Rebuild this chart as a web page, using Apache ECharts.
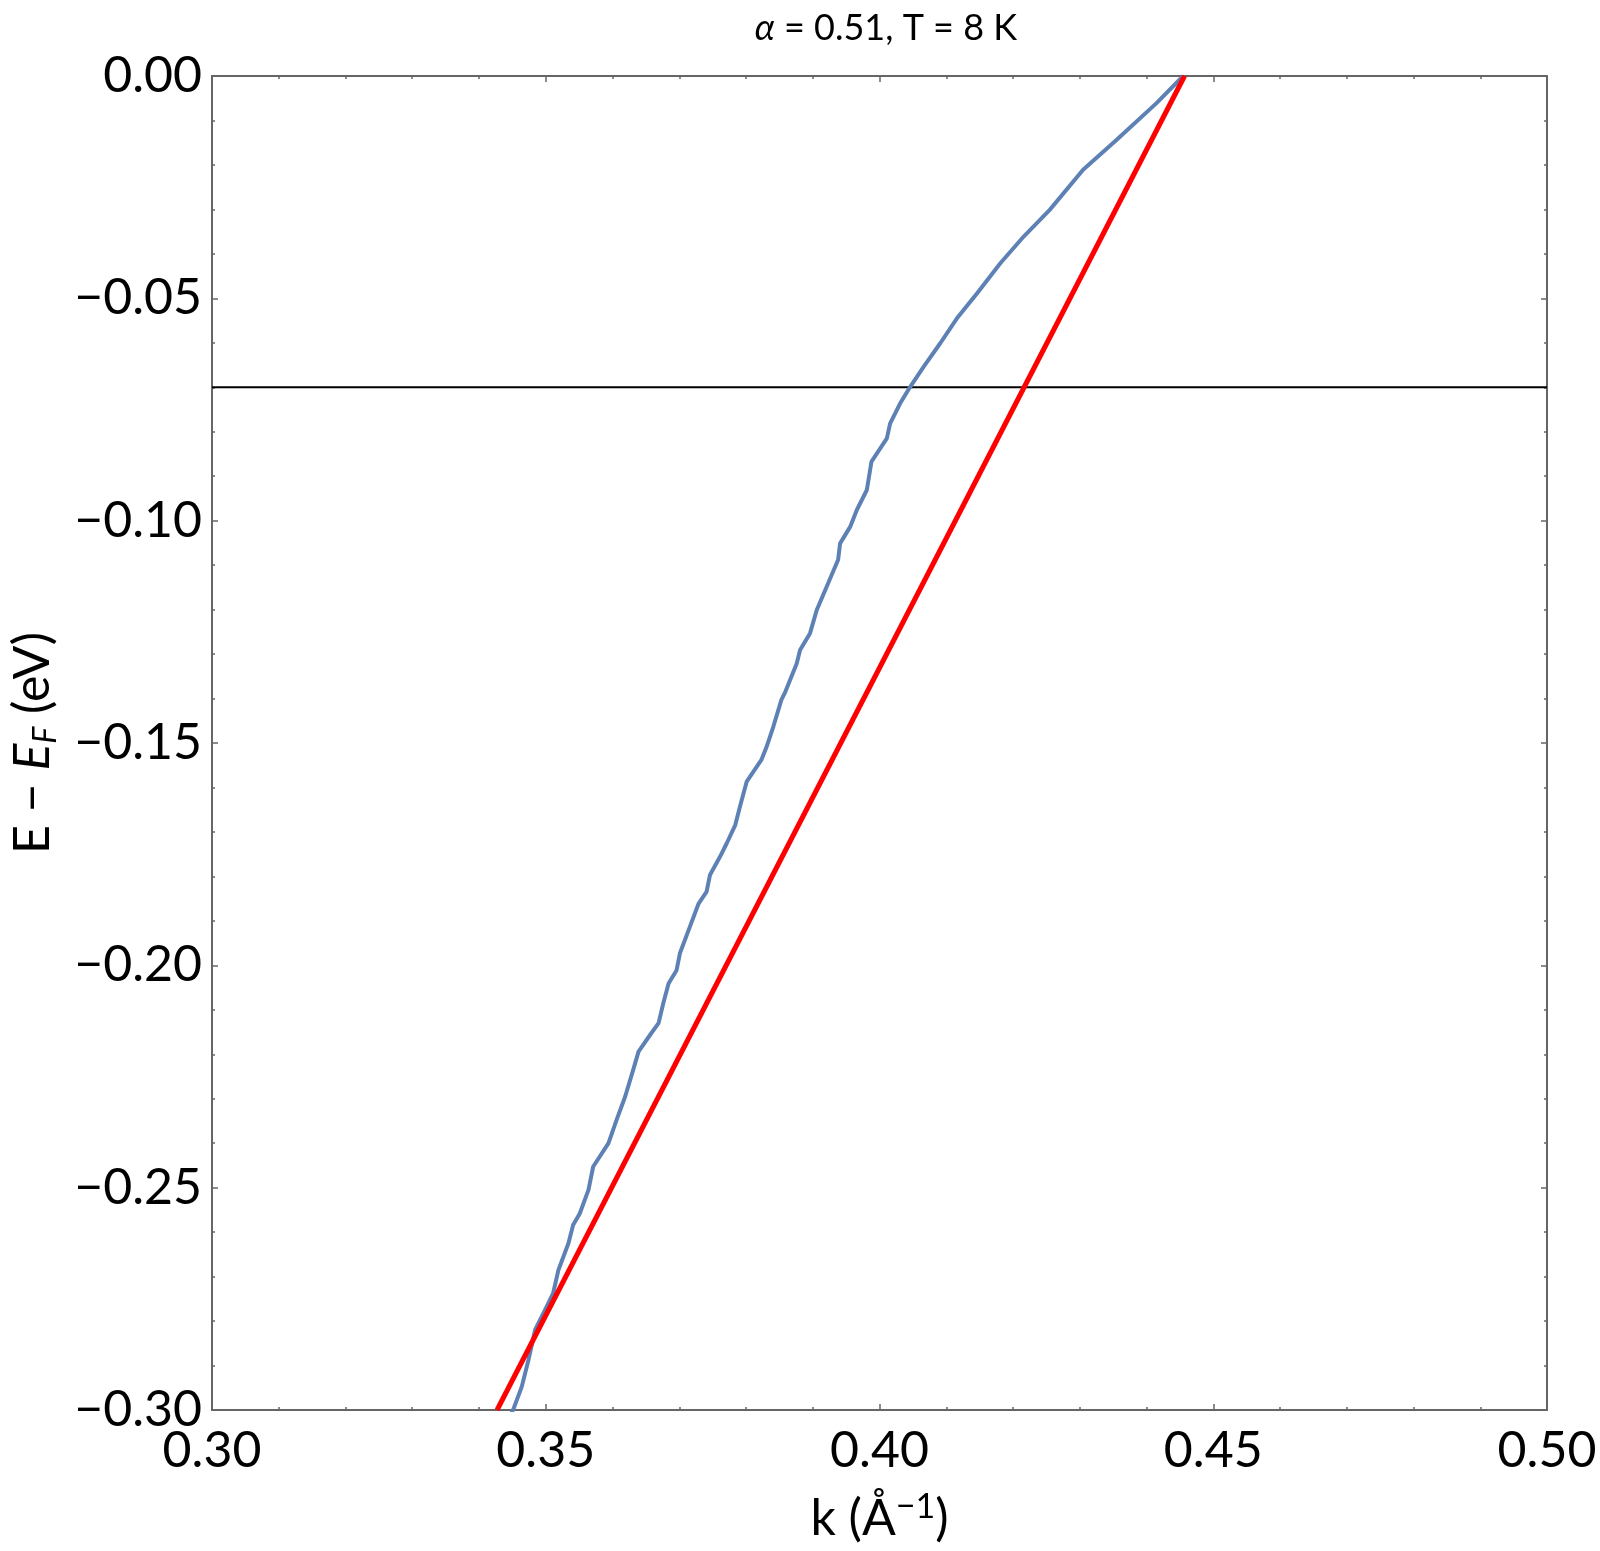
<!DOCTYPE html>
<html>
<head>
<meta charset="utf-8">
<script src="https://cdn.jsdelivr.net/npm/echarts@6/dist/echarts.min.js"></script>
<style>html,body{margin:0;padding:0;background:#fff}#c{width:1600px;height:1551px}</style>
</head>
<body>
<div id="c"></div>
<script>
// Axis ranges / ticks
const kRange = [0.30, 0.50];
const kTickStep = 0.05;
const eRange = [-0.30, 0.00];
const eTickStep = 0.05;

// Blue curve (MDC-derived dispersion): k (Å^-1)
const blueK = [0.4455,0.4415,0.4355,0.4305,0.4255,0.4216,0.4181,0.4146,0.4116,0.4091,0.4066,0.4046,0.4031,0.4016,0.4011,0.3988,0.3981,0.3966,0.3956,0.3941,0.3938,0.3921,0.3906,0.3896,0.3881,0.3876,0.3858,0.3853,0.3841,0.3831,0.3823,0.3801,0.3791,0.3784,0.3771,0.3761,0.3746,0.3741,0.3729,0.3716,0.3701,0.3696,0.3684,0.3676,0.3669,0.3657,0.3639,0.3631,0.3619,0.3606,0.3594,0.3571,0.3564,0.3551,0.3541,0.3534,0.3519,0.3511,0.3499,0.3484,0.3474,0.3464,0.3452,0.3448];
// Blue curve: E - E_F (eV)
const blueE = [0.0,-0.0061,-0.0144,-0.0211,-0.0301,-0.0361,-0.0421,-0.0489,-0.0545,-0.0601,-0.0654,-0.0699,-0.0736,-0.0781,-0.0815,-0.0867,-0.0931,-0.0976,-0.1014,-0.1051,-0.1088,-0.1148,-0.1201,-0.1253,-0.1291,-0.1321,-0.1388,-0.1403,-0.1463,-0.1508,-0.1538,-0.1587,-0.1643,-0.1684,-0.1726,-0.1756,-0.1797,-0.1834,-0.1861,-0.1913,-0.1973,-0.2011,-0.2041,-0.2086,-0.2130,-0.2155,-0.2194,-0.2235,-0.2295,-0.2348,-0.2400,-0.2453,-0.2505,-0.2558,-0.2584,-0.2625,-0.2685,-0.2738,-0.2775,-0.2820,-0.2888,-0.2948,-0.2996,-0.3010];

// Red bare-band line
const redK = [0.3427, 0.4457];
const redE = [-0.30, 0.00];

// Horizontal reference energy
const refK = [0.30, 0.50];
const refE = [-0.07, -0.07];

const titleText = '{i|α} = 0.51, T = 8 K';

const FONT = 'Lato, "Noto Sans", sans-serif';
const frame = '#666666';

function zip(a, b) { return a.map((v, i) => [v, b[i]]); }
function fmtE(v) { return Math.abs(v) < 1e-9 ? '0.00' : (v < 0 ? '\u2212' : '') + Math.abs(v).toFixed(2); }

const tickCommon = {
  axisLine: { show: true, onZero: false, lineStyle: { color: frame, width: 2 } },
  axisTick: { show: true, inside: true, length: 6, lineStyle: { color: frame, width: 1.5 } },
  minorTick: { show: true, splitNumber: 5, length: 3, lineStyle: { color: frame, width: 1.5 } },
  splitLine: { show: false },
  minorSplitLine: { show: false }
};

const chart = echarts.init(document.getElementById('c'), null, { renderer: 'canvas' });
chart.setOption({
  backgroundColor: '#ffffff',
  animation: false,
  title: {
    text: titleText,
    left: 881, top: 5, textAlign: 'center',
    textStyle: {
      fontFamily: FONT, fontSize: 36, fontWeight: 'normal', color: '#000',
      rich: { i: { fontFamily: FONT, fontSize: 36, fontStyle: 'italic', color: '#000' } }
    }
  },
  grid: { left: 212, top: 76, width: 1335, height: 1334, containLabel: false, outerBoundsMode: 'none' },
  xAxis: [
    Object.assign({
      type: 'value', position: 'bottom', min: kRange[0], max: kRange[1], interval: kTickStep,
      name: '{t|k (Å}{s|\u22121}{t|)}', nameLocation: 'middle', nameGap: 80,
      nameTextStyle: {
        fontFamily: FONT, fontSize: 50, color: '#000',
        rich: {
          t: { fontFamily: FONT, fontSize: 50, color: '#000', lineHeight: 58 },
          s: { fontFamily: FONT, fontSize: 34, color: '#000', verticalAlign: 'top', lineHeight: 58, padding: [0, 0, 18, 0] }
        }
      },
      axisLabel: { show: true, margin: 16, fontFamily: FONT, fontSize: 50, color: '#000', formatter: v => v.toFixed(2) }
    }, tickCommon),
    Object.assign({
      type: 'value', position: 'top', min: kRange[0], max: kRange[1], interval: kTickStep,
      axisLabel: { show: false }
    }, tickCommon)
  ],
  yAxis: [
    Object.assign({
      type: 'value', position: 'left', min: eRange[0], max: eRange[1], interval: eTickStep,
      name: '{t|E \u2212 }{it|E}{sub|F}{t| (eV)}', nameLocation: 'middle', nameGap: 150,
      nameTextStyle: {
        fontFamily: FONT, fontSize: 50, color: '#000',
        rich: {
          t: { fontFamily: FONT, fontSize: 50, color: '#000', lineHeight: 58 },
          it: { fontFamily: FONT, fontSize: 50, fontStyle: 'italic', color: '#000', lineHeight: 58 },
          sub: { fontFamily: FONT, fontSize: 32, fontStyle: 'italic', color: '#000', verticalAlign: 'bottom', lineHeight: 58 }
        }
      },
      axisLabel: { show: true, margin: 10, fontFamily: FONT, fontSize: 50, color: '#000', formatter: fmtE }
    }, tickCommon),
    Object.assign({
      type: 'value', position: 'right', min: eRange[0], max: eRange[1], interval: eTickStep,
      axisLabel: { show: false }
    }, tickCommon)
  ],
  series: [
    {
      type: 'line', data: zip(refK, refE), showSymbol: false, symbol: 'none', clip: true,
      lineStyle: { color: '#000000', width: 2.2 }, silent: true, z: 2
    },
    {
      type: 'line', data: zip(blueK, blueE), showSymbol: false, symbol: 'none', clip: true,
      lineStyle: { color: '#5E81B5', width: 4, join: 'round' }, silent: true, z: 3
    },
    {
      type: 'line', data: zip(redK, redE), showSymbol: false, symbol: 'none', clip: true,
      lineStyle: { color: '#FF0000', width: 5 }, silent: true, z: 4
    }
  ]
});
</script>
</body>
</html>
